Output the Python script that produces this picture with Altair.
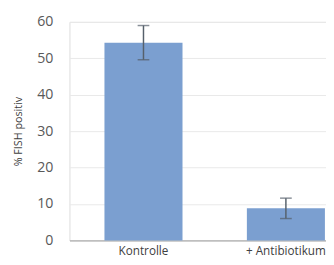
import altair as alt
import pandas as pd

categories = ["Kontrolle", "+ Antibiotikum"]
values = [54.3, 8.8]
errors = [4.7, 2.8]

df = pd.DataFrame({
    "cat": categories,
    "val": values,
    "lo": [v - e for v, e in zip(values, errors)],
    "hi": [v + e for v, e in zip(values, errors)],
})

FONT = "Open Sans"
xenc = alt.X("cat:N", sort=categories,
             scale=alt.Scale(paddingInner=0.452, paddingOuter=0.1267, align=0.97),
             axis=alt.Axis(title=None, labelAngle=0, labelFont=FONT, labelFontSize=12,
                           labelColor="#404040", ticks=False, domainColor="#b0b0b0",
                           domainWidth=1.2, labelPadding=5, grid=False))
yscale = alt.Scale(domain=[0, 60], nice=False)
yaxis = alt.Axis(title="% FISH positiv", values=[0, 10, 20, 30, 40, 50, 60],
                 titleFont=FONT, titleFontSize=11, titleFontWeight="normal",
                 titleColor="#404040", titlePadding=14, labelOverlap=False,
                 labelFont=FONT, labelFontSize=14.5, labelColor="#595959",
                 labelPadding=17, ticks=False, domain=False,
                 gridColor="#e8e8e8")

base = alt.Chart(df).encode(x=xenc)

bars = base.mark_bar(color="#7b9fd0").encode(
    y=alt.Y("val:Q", scale=yscale, axis=yaxis),
)
rules = base.mark_rule(color="#56606b", strokeWidth=1.5).encode(
    y=alt.Y("lo:Q", scale=yscale, axis=yaxis), y2="hi:Q")
cap_lo = base.mark_tick(color="#56606b", size=12, thickness=1.5, orient="horizontal").encode(
    y=alt.Y("lo:Q", scale=yscale, axis=yaxis))
cap_hi = base.mark_tick(color="#56606b", size=12, thickness=1.5, orient="horizontal").encode(
    y=alt.Y("hi:Q", scale=yscale, axis=yaxis))

chart = alt.layer(bars, rules, cap_lo, cap_hi).properties(
    width=263, height=224,
    autosize=alt.AutoSizeParams(type="none"),
    padding={"left": 63, "top": 11, "right": 0, "bottom": 22},
).configure_view(stroke=None).configure(background="white")

chart.save("out.html", embed_options={"renderer": "svg", "actions": False})
